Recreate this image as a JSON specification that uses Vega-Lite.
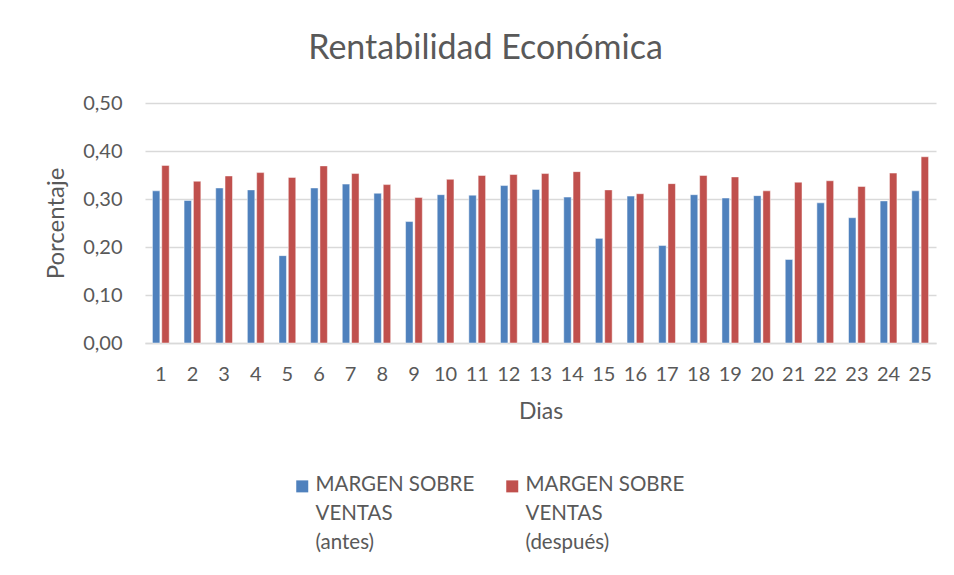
{
  "$schema": "https://vega.github.io/schema/vega-lite/v6.json",
  "width": 791,
  "height": 240,
  "autosize": {"type": "none"},
  "padding": {"left": 145, "top": 103, "right": 18, "bottom": 232},
  "background": "white",
  "title": {"text": "Rentabilidad Económica", "fontSize": 34, "font": "Lato", "fontWeight": "normal", "color": "#595959", "anchor": "middle", "dx": -55, "offset": 27},
  "data": {"values": [
    {"dia": 1, "serie": "antes", "valor": 0.317}, {"dia": 1, "serie": "después", "valor": 0.370},
    {"dia": 2, "serie": "antes", "valor": 0.297}, {"dia": 2, "serie": "después", "valor": 0.337},
    {"dia": 3, "serie": "antes", "valor": 0.323}, {"dia": 3, "serie": "después", "valor": 0.348},
    {"dia": 4, "serie": "antes", "valor": 0.319}, {"dia": 4, "serie": "después", "valor": 0.355},
    {"dia": 5, "serie": "antes", "valor": 0.182}, {"dia": 5, "serie": "después", "valor": 0.345},
    {"dia": 6, "serie": "antes", "valor": 0.323}, {"dia": 6, "serie": "después", "valor": 0.369},
    {"dia": 7, "serie": "antes", "valor": 0.331}, {"dia": 7, "serie": "después", "valor": 0.353},
    {"dia": 8, "serie": "antes", "valor": 0.312}, {"dia": 8, "serie": "después", "valor": 0.330},
    {"dia": 9, "serie": "antes", "valor": 0.253}, {"dia": 9, "serie": "después", "valor": 0.303},
    {"dia": 10, "serie": "antes", "valor": 0.309}, {"dia": 10, "serie": "después", "valor": 0.341},
    {"dia": 11, "serie": "antes", "valor": 0.308}, {"dia": 11, "serie": "después", "valor": 0.349},
    {"dia": 12, "serie": "antes", "valor": 0.328}, {"dia": 12, "serie": "después", "valor": 0.351},
    {"dia": 13, "serie": "antes", "valor": 0.320}, {"dia": 13, "serie": "después", "valor": 0.353},
    {"dia": 14, "serie": "antes", "valor": 0.304}, {"dia": 14, "serie": "después", "valor": 0.357},
    {"dia": 15, "serie": "antes", "valor": 0.218}, {"dia": 15, "serie": "después", "valor": 0.319},
    {"dia": 16, "serie": "antes", "valor": 0.306}, {"dia": 16, "serie": "después", "valor": 0.311},
    {"dia": 17, "serie": "antes", "valor": 0.203}, {"dia": 17, "serie": "después", "valor": 0.332},
    {"dia": 18, "serie": "antes", "valor": 0.309}, {"dia": 18, "serie": "después", "valor": 0.349},
    {"dia": 19, "serie": "antes", "valor": 0.302}, {"dia": 19, "serie": "después", "valor": 0.346},
    {"dia": 20, "serie": "antes", "valor": 0.307}, {"dia": 20, "serie": "después", "valor": 0.317},
    {"dia": 21, "serie": "antes", "valor": 0.174}, {"dia": 21, "serie": "después", "valor": 0.335},
    {"dia": 22, "serie": "antes", "valor": 0.292}, {"dia": 22, "serie": "después", "valor": 0.338},
    {"dia": 23, "serie": "antes", "valor": 0.261}, {"dia": 23, "serie": "después", "valor": 0.326},
    {"dia": 24, "serie": "antes", "valor": 0.296}, {"dia": 24, "serie": "después", "valor": 0.354},
    {"dia": 25, "serie": "antes", "valor": 0.317}, {"dia": 25, "serie": "después", "valor": 0.388}
  ]},
  "mark": {"type": "bar", "stroke": "white", "strokeWidth": 0.8, "strokeOpacity": 0.6},
  "encoding": {
    "x": {
      "field": "dia", "type": "ordinal", "sort": null,
      "scale": {"paddingInner": 0.47, "paddingOuter": 0.235},
      "axis": {
        "title": "Dias", "labelAngle": 0, "ticks": false, "domainColor": "#D9D9D9", "domainWidth": 1.3,
        "labelFontSize": 20, "labelColor": "#595959", "labelPadding": 21, "labelFont": "Lato",
        "titleFontSize": 23, "titleFont": "Lato", "titleFontWeight": "normal", "titleColor": "#595959", "titlePadding": 16
      }
    },
    "xOffset": {"field": "serie", "type": "nominal", "sort": ["antes", "después"], "scale": {"paddingInner": 0.2, "paddingOuter": 0}},
    "y": {
      "field": "valor", "type": "quantitative",
      "scale": {"domain": [0, 0.5]},
      "axis": {
        "values": [0, 0.1, 0.2, 0.3, 0.4, 0.5],
        "labelExpr": "replace(format(datum.value, '.2f'), '.', ',')",
        "domain": false, "ticks": false, "gridColor": "#D9D9D9", "gridWidth": 1.3,
        "labelFontSize": 20, "labelColor": "#595959", "labelPadding": 23, "labelFont": "Lato",
        "title": "Porcentaje", "titleFontSize": 24, "titleFont": "Lato", "titleFontWeight": "normal", "titleColor": "#595959", "titlePadding": 14
      }
    },
    "color": {
      "field": "serie", "type": "nominal",
      "scale": {"domain": ["antes", "después"], "range": ["#4F81BD", "#C0504D"]},
      "legend": {
        "title": null, "orient": "none", "legendX": 147, "legendY": 373, "direction": "horizontal",
        "padding": 0, "symbolType": "square", "symbolSize": 144, "symbolStrokeWidth": 0, "symbolOpacity": 1,
        "labelFontSize": 20.5, "labelFont": "Lato", "labelColor": "#595959", "labelOffset": 3, "labelLimit": 400,
        "columnPadding": 27, "labelBaseline": "top",
        "labelExpr": "datum.label == 'antes' ? ['MARGEN SOBRE', '\u2007VENTAS', '\u2007\u2007\u2007(antes)'] : ['MARGEN SOBRE', 'VENTAS', '\u2007\u2007(después)']",
        "encoding": {"labels": {"lineHeight": {"value": 29}, "dy": {"value": -11}}}
      }
    }
  },
  "config": {"view": {"stroke": null}, "font": "Lato"}
}
